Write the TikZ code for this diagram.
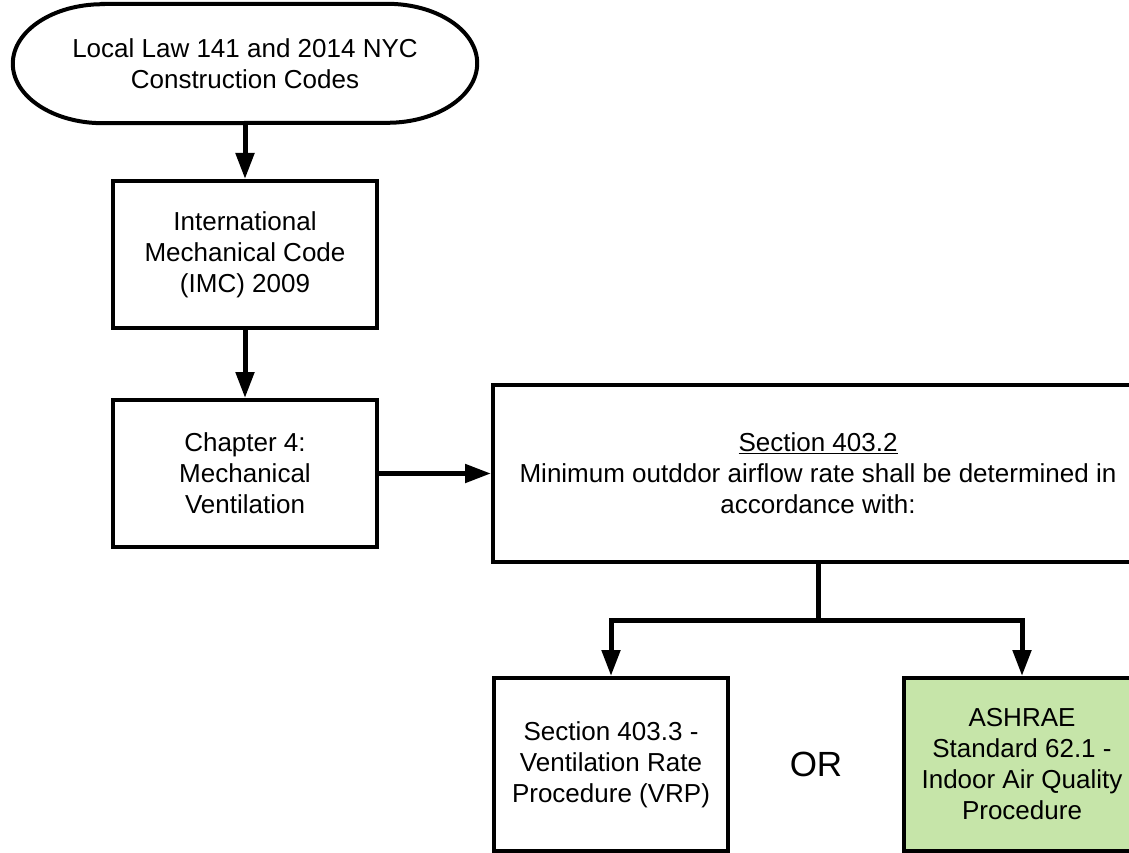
\documentclass[tikz,border=0pt]{standalone}
\usepackage{fontspec}
\setmainfont{Liberation Sans}
\usetikzlibrary{arrows.meta}
\definecolor{procgreen}{HTML}{C6E5A9}
\tikzset{
  txt/.style={align=center, inner sep=2pt, font=\fontsize{26}{31}\selectfont},
  box/.style={txt, draw, line width=4pt},
  term/.style={txt, minimum width=464pt, minimum height=119pt},
  arr/.style={line width=5pt, -{Triangle[length=26pt,width=18pt]}},
}
\begin{document}
\begin{tikzpicture}[x=1pt,y=1pt]
\useasboundingbox (0,0) rectangle (1129,-853);
\clip (0,0) rectangle (1129,-853);
\draw   (245,-63.5) node[term] (law) {Local Law 141 and 2014 NYC\\Construction Codes}
        (245,-254.5) node[box, minimum width=264pt, minimum height=147pt] (imc)
            {International\\Mechanical Code\\(IMC) 2009}
        (245,-473.5) node[box, minimum width=264pt, minimum height=147pt] (ch4)
            {Chapter 4:\\Mechanical\\Ventilation}
        (818,-473.5) node[box, minimum width=650pt, minimum height=177pt] (sec2)
            {\underline{Section 403.2}\\Minimum outddor airflow rate shall be determined in\\accordance with:}
        (611,-764.5) node[box, minimum width=234pt, minimum height=173pt] (vrp)
            {Section 403.3 -\\Ventilation Rate\\Procedure (VRP)}
        (1022,-764.5) node[box, fill=procgreen, minimum width=236pt, minimum height=173pt] (iaq)
            {ASHRAE\\Standard 62.1 -\\Indoor Air Quality\\Procedure}
        (816,-764) node[txt, font=\fontsize{35}{40}\selectfont] (or) {OR}

        (law) edge [arr] (imc)
        (imc) edge [arr] (ch4)
        (ch4) edge [arr] (sec2)
        ;
% terminator outline
\draw[line width=4pt] ([xshift=90pt]law.north west) -- ([xshift=-90pt]law.north east)
    arc[start angle=90, end angle=-90, x radius=90pt, y radius=59.5pt]
    -- ([xshift=90pt]law.south west)
    arc[start angle=270, end angle=90, x radius=90pt, y radius=59.5pt] -- cycle;
% split below section 403.2
\coordinate (split) at (818,-620);
\draw[line width=5pt] (sec2.south) -- (split);
\draw[arr] (split) -| (vrp.north);
\draw[arr] (split) -| (iaq.north);
\end{tikzpicture}
\end{document}
